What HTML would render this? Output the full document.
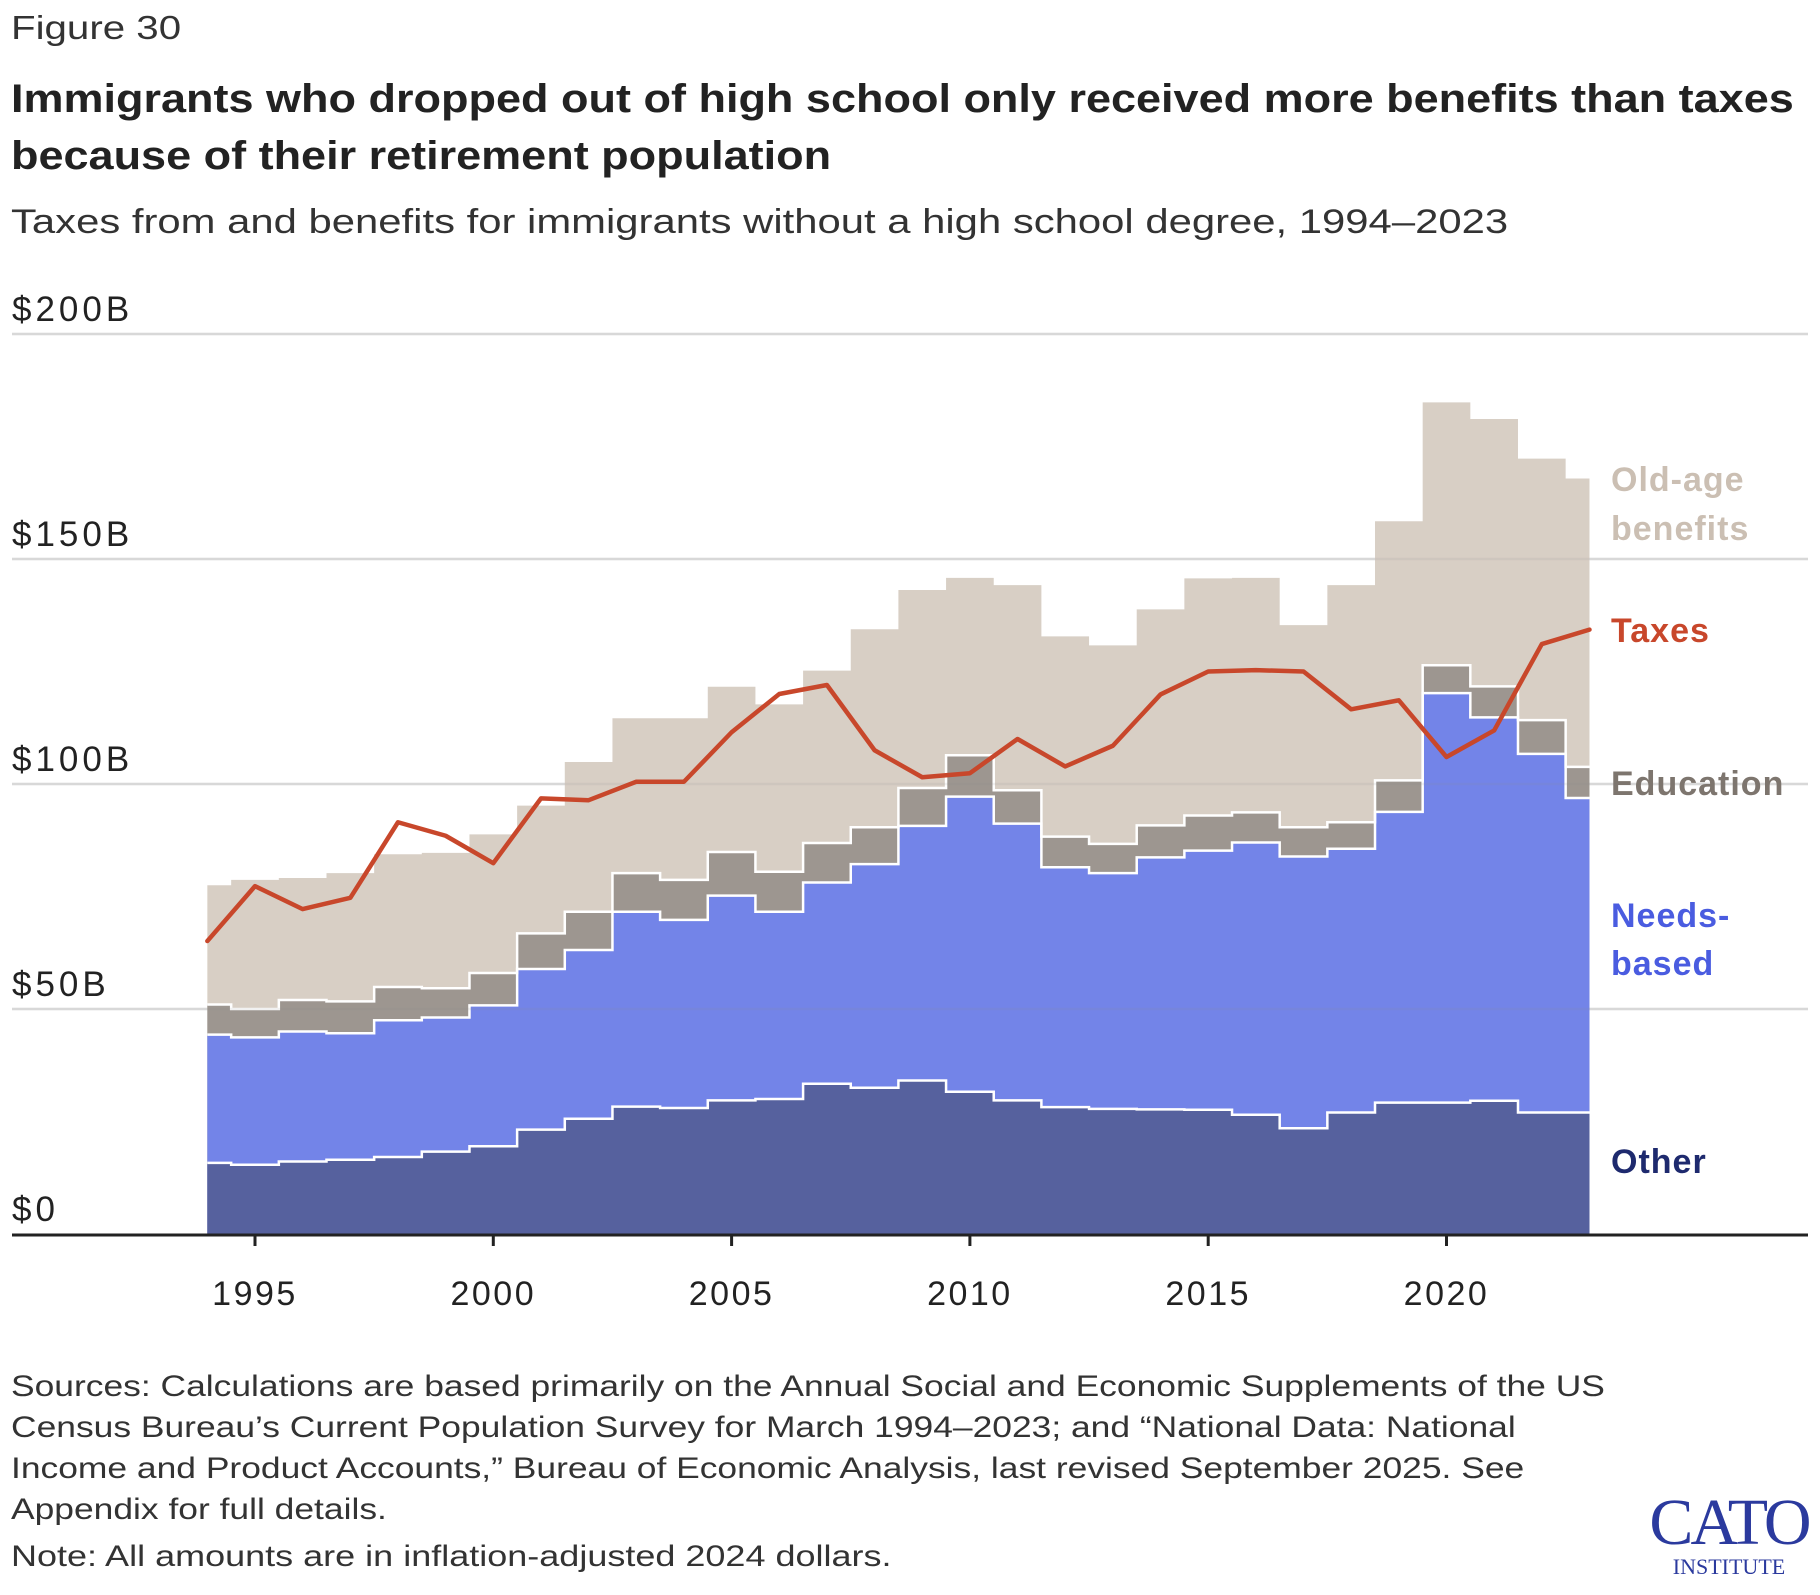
<!DOCTYPE html>
<html><head><meta charset="utf-8">
<style>
body{margin:0;background:#fff;width:1820px;height:1595px;overflow:hidden;font-family:"Liberation Sans",sans-serif;color:#222}
.t{position:absolute;white-space:nowrap;transform-origin:0 0}
</style></head>
<body>
<div class="t" style="left:11px;top:9px;font-size:33px;color:#333;transform:scaleX(1.22)">Figure 30</div>
<div class="t" style="left:11px;top:71px;font-size:40px;font-weight:bold;line-height:57px;color:#222;transform:scaleX(1.125)">Immigrants who dropped out of high school only received more benefits than taxes<br>because of their retirement population</div>
<div class="t" style="left:11px;top:203px;font-size:34px;color:#333;transform:scaleX(1.23)">Taxes from and benefits for immigrants without a high school degree, 1994–2023</div>
<svg id="chart" width="1820" height="1595" style="position:absolute;left:0;top:0"></svg>
<div class="t" style="left:11px;top:1366px;font-size:30px;line-height:41px;color:#333;transform:scaleX(1.18)">Sources: Calculations are based primarily on the Annual Social and Economic Supplements of the US<br>Census Bureau’s Current Population Survey for March 1994–2023; and “National Data: National<br>Income and Product Accounts,” Bureau of Economic Analysis, last revised September 2025. See<br>Appendix for full details.</div>
<div class="t" style="left:11px;top:1540px;font-size:30px;color:#333;transform:scaleX(1.2)">Note: All amounts are in inflation-adjusted 2024 dollars.</div>
<div class="t" style="left:1648px;top:1490px;width:162px;text-align:center;font-family:'Liberation Serif',serif;color:#2b3a9e">
<div style="font-size:66px;line-height:66px;letter-spacing:-3px">CATO</div>
<div style="font-size:22px;line-height:22px;letter-spacing:0px">INSTITUTE</div></div>
<script>
const years=[1994,1995,1996,1997,1998,1999,2000,2001,2002,2003,2004,2005,2006,2007,2008,2009,2010,2011,2012,2013,2014,2015,2016,2017,2018,2019,2020,2021,2022,2023];
const other=[15.8,15.4,16.1,16.5,17.1,18.3,19.5,23.2,25.6,28.3,28.0,29.7,30.0,33.4,32.5,34.1,31.6,29.7,28.2,27.8,27.7,27.6,26.5,23.5,27.0,29.2,29.2,29.6,27.0,27.0];
const needs=[28.5,28.3,28.9,28.1,30.4,29.8,31.3,35.7,37.5,43.3,41.8,45.5,41.6,44.7,49.7,56.6,65.6,61.5,53.3,52.4,56.0,57.6,60.5,60.4,58.6,64.6,91.0,85.2,79.7,69.9];
const education=[6.7,6.3,7.0,7.1,7.4,6.5,7.2,7.9,8.5,8.6,8.9,9.7,8.9,8.8,8.2,8.4,9.2,7.4,6.8,6.5,7.1,7.8,6.7,6.5,5.9,7.0,6.2,6.9,7.5,6.9];
const oldAge=[26.5,28.7,27.1,28.5,29.5,30.1,30.8,28.4,33.3,34.4,35.9,36.7,37.2,38.3,44.0,44.0,39.4,45.6,44.5,44.1,48.0,52.7,52.1,44.9,52.7,57.6,58.4,59.4,58.1,64.1];
const taxes=[65.1,77.3,72.2,74.7,91.5,88.5,82.4,96.8,96.4,100.5,100.5,111.5,120,122,107.5,101.5,102.4,110,103.9,108.5,119.9,125,125.3,125,116.6,118.6,106,111.9,131.1,134.3];
const yTicks=[0,50,100,150,200];
const yTickLabels=["$0","$50B","$100B","$150B","$200B"];
const xTicks=[1995,2000,2005,2010,2015,2020];

const NS="http://www.w3.org/2000/svg";
const svg=document.getElementById('chart');
const X=yr=>255+(yr-1995)*47.66;
const Y=v=>1234-v*4.5;
function mk(tag,attrs,parent){const e=document.createElementNS(NS,tag);for(const k in attrs)e.setAttribute(k,attrs[k]);(parent||svg).appendChild(e);return e;}

const layers=[other,needs,education,oldAge];
const colors=["#56619e","#7384e8","#9d9690","#d8cfc5"];
const names=["area-other","area-needs-based","area-education","area-old-age"];
const cum=[];let base=years.map(()=>0);
layers.forEach(l=>{const top=l.map((v,i)=>base[i]+v);cum.push({lo:base,hi:top});base=top;});
function stepPts(arr){
  const p=[];const n=years.length;
  for(let i=0;i<n;i++){
    const x0=i===0?X(years[0]):X(years[i]-0.5);
    const x1=i===n-1?X(years[n-1]):X(years[i]+0.5);
    p.push([x0,Y(arr[i])],[x1,Y(arr[i])]);
  }
  return p;
}
yTicks.forEach((t,i)=>{
  if(t>0){const g=mk('line',{x1:12,x2:1808,y1:Y(t),y2:Y(t),stroke:'#e3e3e3','stroke-width':2.5});
  
  }
  const tx=mk('text',{x:12,y:Y(t)-13,'font-size':35,'letter-spacing':4,fill:'#222','font-family':'Liberation Sans, sans-serif'});
  tx.textContent=yTickLabels[i];
  
  
});
for(let k=layers.length-1;k>=0;k--){
  const hi=stepPts(cum[k].hi);
  const d='M'+hi.map(p=>p.join(',')).join('L')+'L'+X(years[years.length-1])+','+Y(0)+'L'+X(years[0])+','+Y(0)+'Z';
  const a=mk('path',{d:d,fill:colors[k]});
  
  
}
for(let k=0;k<3;k++){
  const hi=stepPts(cum[k].hi);
  const o=mk('path',{d:'M'+hi.map(p=>p.join(',')).join('L'),fill:'none',stroke:'#fff','stroke-width':2.5});
  
  
}
yTicks.forEach(t=>{if(t>0){const g=mk('line',{x1:12,x2:1808,y1:Y(t),y2:Y(t),stroke:'#888','stroke-opacity':0.12,'stroke-width':2.5});

}});
const tl=mk('polyline',{points:years.map((y,i)=>X(y)+','+Y(taxes[i])).join(' '),fill:'none',stroke:'#c8472b','stroke-width':4.5,'stroke-linejoin':'round','stroke-linecap':'round'});


const ax=mk('line',{x1:12,x2:1808,y1:1235,y2:1235,stroke:'#222','stroke-width':3});


xTicks.forEach(t=>{
  const tk=mk('line',{x1:X(t),x2:X(t),y1:1235,y2:1246,stroke:'#222','stroke-width':3});
  
  
  const tx=mk('text',{x:X(t),y:1305,'font-size':34,'letter-spacing':2.5,fill:'#222','text-anchor':'middle','font-family':'Liberation Sans, sans-serif'});
  tx.textContent=t;
  
  
});
const labs=[["Old-age",491,"#cbbfb3","label-old-age"],["benefits",540,"#cbbfb3","label-old-age-2"],["Taxes",642,"#c8472b","label-taxes"],["Education",795,"#7d756e","label-education"],["Needs-",927,"#4a5ce0","label-needs-based"],["based",975,"#4a5ce0","label-needs-based-2"],["Other",1173,"#1e2a6e","label-other"]];
labs.forEach(l=>{
  const tx=mk('text',{x:1611,y:l[1],'font-size':34,'font-weight':'bold','letter-spacing':1,fill:l[2],'font-family':'Liberation Sans, sans-serif'});
  tx.textContent=l[0];
  
  
});
</script>
</body></html>
